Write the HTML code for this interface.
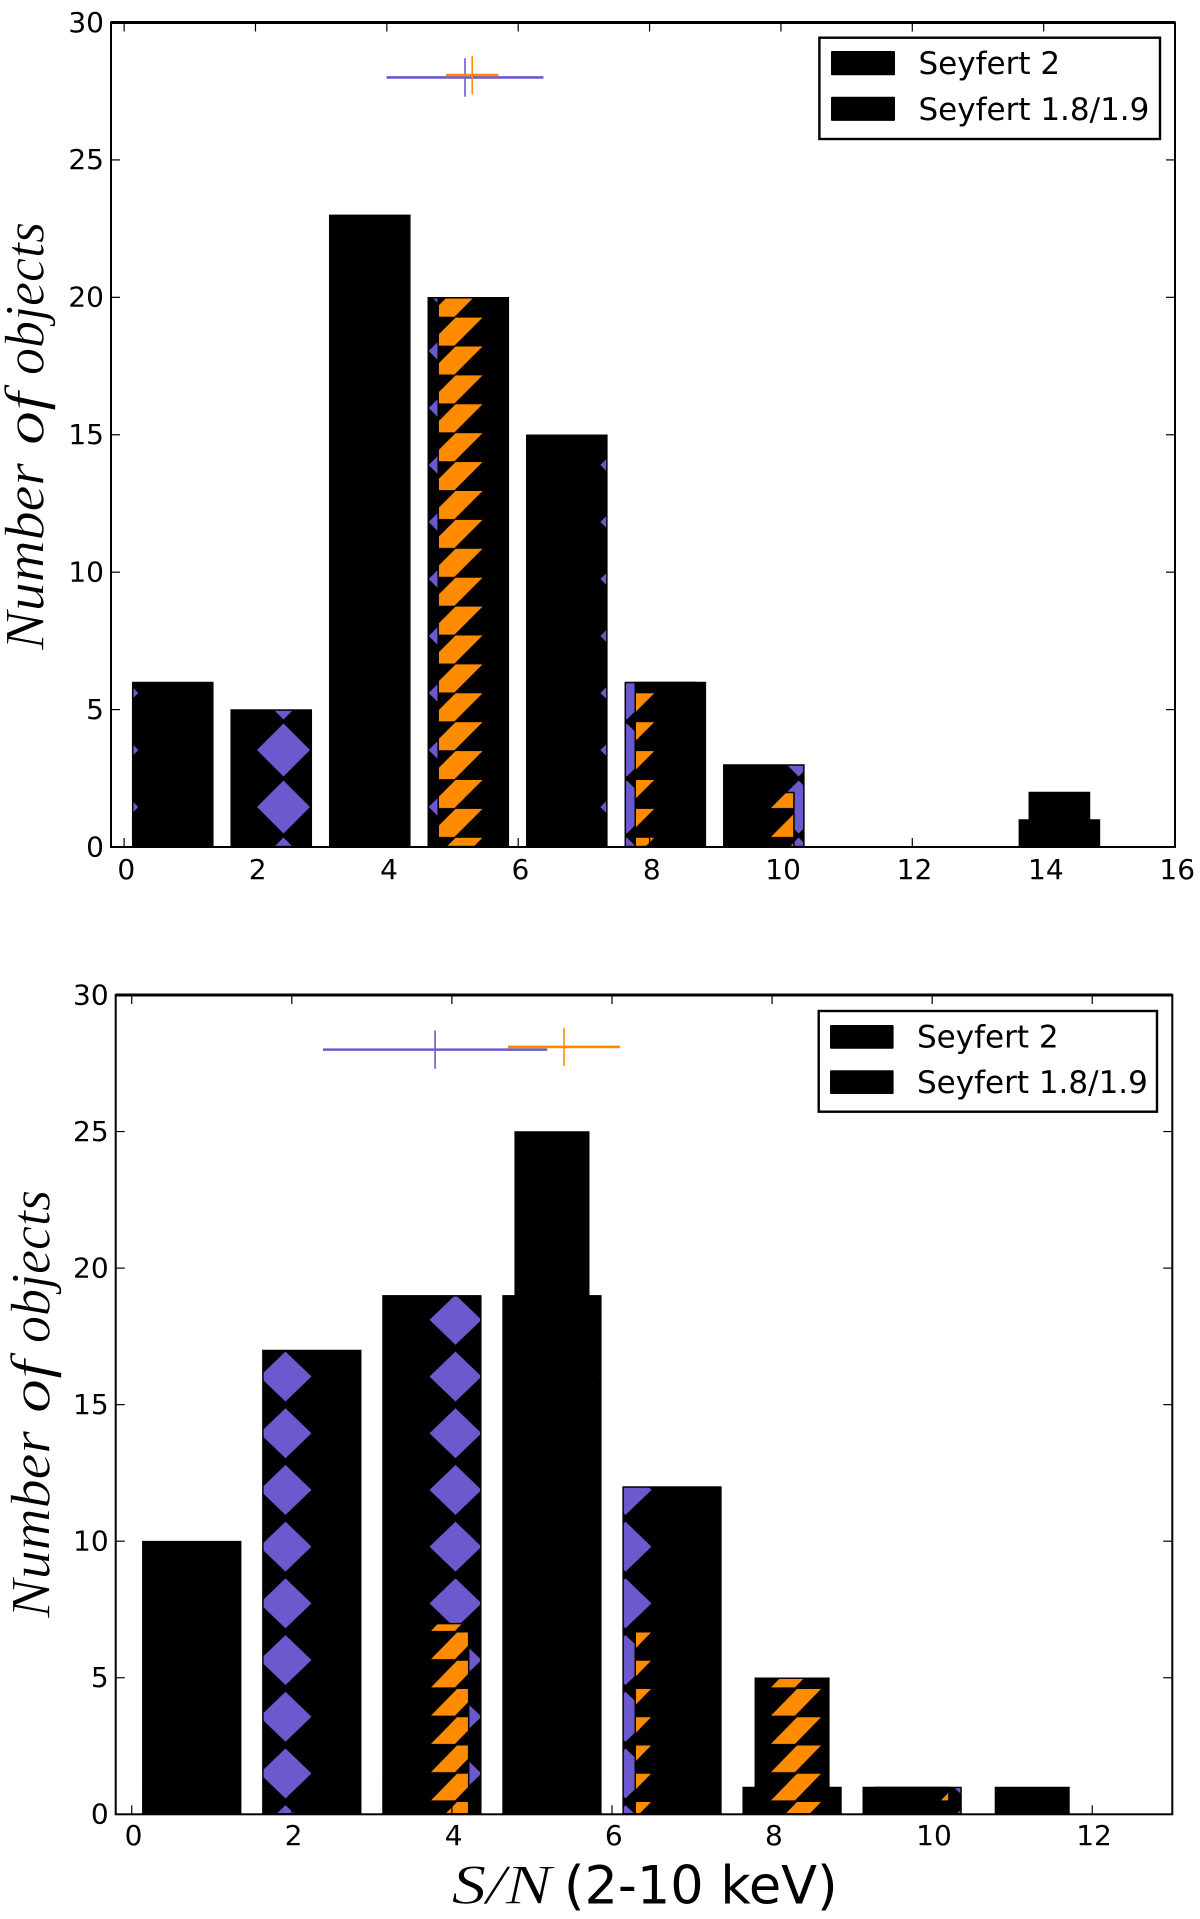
<!DOCTYPE html>
<html lang="en">
<head>
<meta charset="utf-8">
<title>Seyfert histograms</title>
<style>
html,body{margin:0;padding:0;background:#fff;}
svg{display:block;}
.tick-text{font-family:"DejaVu Sans","Liberation Sans",sans-serif;font-size:28px;fill:#000;}
.legend-text{font-family:"DejaVu Sans","Liberation Sans",sans-serif;font-size:31px;fill:#000;}
.math{font-family:"Liberation Serif",serif;font-style:italic;font-size:56px;fill:#000;stroke:#fff;stroke-width:0.6px;}
.plain-label{font-family:"DejaVu Sans","Liberation Sans",sans-serif;font-size:52.5px;fill:#000;}
</style>
</head>
<body>
<svg id="figure" xmlns="http://www.w3.org/2000/svg" width="1200" height="1919" viewBox="0 0 1200 1919">
  <rect x="0" y="0" width="1200" height="1919" fill="#ffffff"/>
  <defs>
    <clipPath id="clip-top"><rect x="111" y="22.5" width="1064" height="824.5"/></clipPath>
    <clipPath id="clip-bottom"><rect x="115.7" y="995" width="1056.6" height="819.3"/></clipPath>
    <pattern id="hatch-purple-top" patternUnits="userSpaceOnUse" x="197.65" y="778.5" width="171.7" height="57">
      <polygon points="85.85,2 112.35,28.5 85.85,55 59.35,28.5" fill="#6a5acd"/>
    </pattern>
    <pattern id="hatch-orange-top" patternUnits="userSpaceOnUse" x="427.5" y="693.3" width="171.7" height="28.9">
      <polygon points="55,0 28,0 0,28 27,28" fill="#ff8c00"/>
    </pattern>
    <pattern id="hatch-purple-bottom" patternUnits="userSpaceOnUse" x="200.5" y="1575" width="170" height="56.7">
      <polygon points="85,3.3 111,28.3 85,53.3 59,28.3" fill="#6a5acd"/>
    </pattern>
    <pattern id="hatch-orange-bottom" patternUnits="userSpaceOnUse" x="771" y="1689" width="170" height="28.25">
      <polygon points="50,0 26,0 0,26.7 24,26.7" fill="#ff8c00"/>
    </pattern>
  </defs>
  <g id="panel-top"></g>
  <g id="panel-bottom"></g>

  <g transform="translate(43.5 650) rotate(-90)">
    <text class="math" x="0" y="0" textLength="187" lengthAdjust="spacingAndGlyphs">Number</text>
    <text class="math" x="205" y="0" textLength="53" lengthAdjust="spacingAndGlyphs">of</text>
    <text class="math" x="275" y="0" textLength="153" lengthAdjust="spacingAndGlyphs">objects</text>
  </g>
  <g transform="translate(49.5 1618) rotate(-90)">
    <text class="math" x="0" y="0" textLength="187" lengthAdjust="spacingAndGlyphs">Number</text>
    <text class="math" x="205" y="0" textLength="53" lengthAdjust="spacingAndGlyphs">of</text>
    <text class="math" x="275" y="0" textLength="153" lengthAdjust="spacingAndGlyphs">objects</text>
  </g>
  <text class="math" x="451.7" y="1903.3" textLength="100" lengthAdjust="spacingAndGlyphs">S/N</text>
  <text class="plain-label" x="564" y="1903.3">(2-10 keV)</text>
</svg>
<script>
// ---- Top panel data ----
const topBinCenters = [0.74, 2.24, 3.74, 5.24, 6.74, 8.24, 9.74, 11.24, 12.74, 14.24, 15.74];
const topSeyfert2Counts = [6, 5, 23, 20, 15, 6, 3, 0, 0, 1, 0];
const topSeyfert18Counts = [3, 0, 10, 20, 6, 6, 2, 0, 0, 2, 0];
const topXTicks = [0, 2, 4, 6, 8, 10, 12, 14, 16];
const topYTicks = [0, 5, 10, 15, 20, 25, 30];
const topMeanSeyfert2 = [5.19, 28.0];
const topErrSeyfert2 = [1.195, 0.7];
const topMeanSeyfert18 = [5.3, 28.09];
const topErrSeyfert18 = [0.4, 0.7];

// ---- Bottom panel data ----
const bottomBinCenters = [0.75, 2.25, 3.75, 5.25, 6.75, 8.25, 9.75, 11.25, 12.75];
const bottomSeyfert2Counts = [10, 17, 19, 19, 12, 1, 1, 0, 0];
const bottomSeyfert18Counts = [4, 0, 7, 25, 7, 5, 1, 1, 0];
const bottomXTicks = [0, 2, 4, 6, 8, 10, 12];
const bottomYTicks = [0, 5, 10, 15, 20, 25, 30];
const bottomMeanSeyfert2 = [3.79, 28.0];
const bottomErrSeyfert2 = [1.4, 0.7];
const bottomMeanSeyfert18 = [5.4, 28.1];
const bottomErrSeyfert18 = [0.7, 0.7];

const legendLabels = ['Seyfert 2', 'Seyfert 1.8/1.9'];

const NS = 'http://www.w3.org/2000/svg';
function make(parent, tag, attrs, text) {
  const node = document.createElementNS(NS, tag);
  for (const k in attrs) node.setAttribute(k, attrs[k]);
  if (text !== undefined) node.textContent = text;
  parent.appendChild(node);
  return node;
}

function drawBars(panel, p, counts, widthData, hatch, seriesName) {
  const group = make(panel, 'g', {'clip-path': 'url(#' + p.clip + ')'});
  
  
  counts.forEach(function (count, i) {
    const c = p.centers[i];
    const x0 = p.sx(c - widthData / 2);
    const x1 = p.sx(c + widthData / 2);
    const y0 = p.sy(count);
    const y1 = p.sy(0);
    const bar = make(group, 'path', {
      d: 'M' + x0 + ' ' + y1 + 'L' + x0 + ' ' + y0 + 'L' + x1 + ' ' + y0 + 'L' + x1 + ' ' + y1 + 'Z',
      fill: '#000', stroke: '#000', 'stroke-width': 0.6
    });
    
    
    if (y1 - y0 > 3) {
      const inset = 1.2;
      const fillRect = make(group, 'rect', {
        x: x0 + inset, y: y0 + inset,
        width: x1 - x0 - 2 * inset, height: y1 - y0 - 2 * inset,
        fill: 'url(#' + hatch + ')'
      });
      
      
    }
  });
}

function drawErrorCross(panel, p, mean, err, color, seriesName) {
  const h = make(panel, 'line', {
    x1: p.sx(mean[0] - err[0]), x2: p.sx(mean[0] + err[0]),
    y1: p.sy(mean[1]), y2: p.sy(mean[1]),
    stroke: color, 'stroke-width': 2.6
  });
  
  
  const v = make(panel, 'line', {
    x1: p.sx(mean[0]), x2: p.sx(mean[0]),
    y1: p.sy(mean[1] - err[1]), y2: p.sy(mean[1] + err[1]),
    stroke: color, 'stroke-width': 1.6
  });
  
  
}

function drawAxes(panel, p) {
  const b = p.box;
  const tickLen = 9;
  p.xTicks.forEach(function (t) {
    const x = p.sx(t);
    const tb = make(panel, 'line', {x1: x, x2: x, y1: b.bottom, y2: b.bottom - tickLen, stroke: '#000', 'stroke-width': 1.2});
    
    
    const tt = make(panel, 'line', {x1: x, x2: x, y1: b.top, y2: b.top + tickLen, stroke: '#000', 'stroke-width': 1.2});
    
    
    const label = make(panel, 'text', {x: x + p.xLabelShift, y: p.xLabelBaseline, 'text-anchor': 'middle', 'class': 'tick-text'}, String(t));
    
    
  });
  p.yTicks.forEach(function (t) {
    const y = p.sy(t);
    const tl = make(panel, 'line', {x1: b.left, x2: b.left + tickLen, y1: y, y2: y, stroke: '#000', 'stroke-width': 1.2});
    
    
    const tr = make(panel, 'line', {x1: b.right, x2: b.right - tickLen, y1: y, y2: y, stroke: '#000', 'stroke-width': 1.2});
    
    
    const label = make(panel, 'text', {x: b.left - 7, y: y + 9.3, 'text-anchor': 'end', 'class': 'tick-text'}, String(t));
    
    
  });
  const frame = make(panel, 'rect', {
    x: b.left, y: b.top, width: b.right - b.left, height: b.bottom - b.top,
    fill: 'none', stroke: '#000', 'stroke-width': 2
  });
  
  
  const topSpine = make(panel, 'line', {x1: b.left, x2: b.right, y1: b.top, y2: b.top, stroke: '#000', 'stroke-width': 3});
  
  
}

function drawLegend(panel, l) {
  const group = make(panel, 'g', {});
  
  
  const box = make(group, 'rect', {x: l.x, y: l.y, width: l.w, height: l.h, fill: '#fff', stroke: '#000', 'stroke-width': 2.4});
  
  
  legendLabels.forEach(function (name, i) {
    const swatch = make(group, 'rect', {x: l.patchX, y: l.patchY[i], width: l.patchW, height: l.patchH, rx: 1, fill: '#000'});
    
    
    const label = make(group, 'text', {x: l.textX, y: l.baseY[i], 'class': 'legend-text'}, name);
    
    
  });
}

function render(p) {
  const panel = document.getElementById(p.id);
  p.sx = function (v) { return p.box.left + (v - p.xMin) * (p.box.right - p.box.left) / (p.xMax - p.xMin); };
  p.sy = function (v) { return p.box.bottom - v * (p.box.bottom - p.box.top) / 30; };
  drawBars(panel, p, p.a, 1.233, p.hatchA, 'seyfert-2');
  drawBars(panel, p, p.b, 0.93, p.hatchB, 'seyfert-1-8-1-9');
  drawErrorCross(panel, p, p.meanA, p.errA, '#6a5acd', 'seyfert-2');
  drawErrorCross(panel, p, p.meanB, p.errB, '#ff8c00', 'seyfert-1-8-1-9');
  drawAxes(panel, p);
  drawLegend(panel, p.legend);
}

render({
  id: 'panel-top', clip: 'clip-top',
  box: {left: 111, right: 1175, top: 22.5, bottom: 847},
  xMin: -0.2, xMax: 16,
  centers: topBinCenters, a: topSeyfert2Counts, b: topSeyfert18Counts,
  hatchA: 'hatch-purple-top', hatchB: 'hatch-orange-top',
  xTicks: topXTicks, yTicks: topYTicks,
  meanA: topMeanSeyfert2, errA: topErrSeyfert2,
  meanB: topMeanSeyfert18, errB: topErrSeyfert18,
  xLabelShift: 2.2, xLabelBaseline: 879,
  legend: {x: 819.4, y: 37.7, w: 340.6, h: 101.3, patchX: 831, patchW: 64, patchH: 24.2, patchY: [51, 96.7], textX: 918.5, baseY: [74, 120]}
});

render({
  id: 'panel-bottom', clip: 'clip-bottom',
  box: {left: 115.7, right: 1172.3, top: 995, bottom: 1814.3},
  xMin: -0.2, xMax: 13,
  centers: bottomBinCenters, a: bottomSeyfert2Counts, b: bottomSeyfert18Counts,
  hatchA: 'hatch-purple-bottom', hatchB: 'hatch-orange-bottom',
  xTicks: bottomXTicks, yTicks: bottomYTicks,
  meanA: bottomMeanSeyfert2, errA: bottomErrSeyfert2,
  meanB: bottomMeanSeyfert18, errB: bottomErrSeyfert18,
  xLabelShift: 1.8, xLabelBaseline: 1845,
  legend: {x: 818.7, y: 1011, w: 338.3, h: 100.7, patchX: 830, patchW: 63.6, patchH: 23.7, patchY: [1025, 1070.3], textX: 917, baseY: [1047.3, 1093]}
});
</script>
</body>
</html>
